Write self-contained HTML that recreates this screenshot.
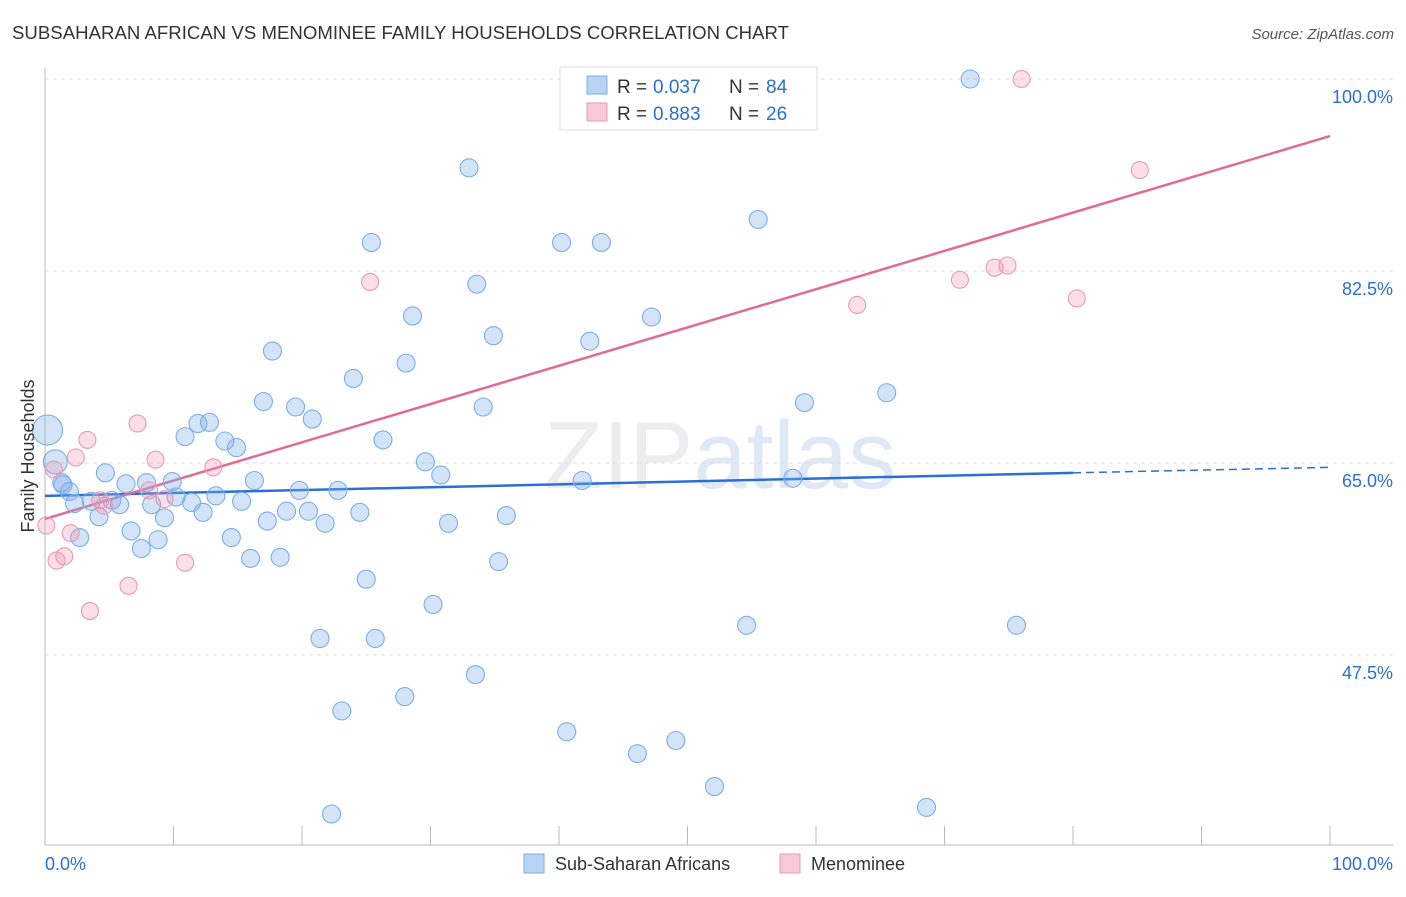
<!DOCTYPE html>
<html><head><meta charset="utf-8"><style>
body{margin:0;background:#fff;font-family:"Liberation Sans",sans-serif;}
svg text{font-family:"Liberation Sans",sans-serif;}
</style></head><body>
<svg id="chart" width="1406" height="892" xmlns="http://www.w3.org/2000/svg">
<text x="12" y="39" font-size="18.6" fill="#333" textLength="777">SUBSAHARAN AFRICAN VS MENOMINEE FAMILY HOUSEHOLDS CORRELATION CHART</text>
<text x="1394" y="39" font-size="15" fill="#555" text-anchor="end" font-style="italic">Source: ZipAtlas.com</text>
<text x="720" y="488" font-size="96" text-anchor="middle" fill="#ededf0" font-family="Liberation Serif"><tspan>ZIP</tspan><tspan font-family="Liberation Sans" fill="#dfe8f5">atlas</tspan></text>
<g id="grid"></g>
<g id="axes"></g>
<g id="lines"></g>
<g id="points"></g>
<text transform="translate(34,456) rotate(-90)" font-size="18" fill="#333" text-anchor="middle">Family Households</text>
<g>
<rect x="560" y="67" width="257" height="63" fill="#fff" stroke="#ddd"/>
<rect x="587" y="76" width="20" height="18" fill="#b8d3f3" stroke="#7aaee8"/>
<rect x="587" y="103" width="20" height="18" fill="#f8c8d8" stroke="#e89ab4"/>
<text x="617" y="93" font-size="19" fill="#333">R =</text>
<text x="653" y="93" font-size="19" fill="#2a6fd6">0.037</text>
<text x="729" y="93" font-size="19" fill="#333">N =</text>
<text x="766" y="93" font-size="19" fill="#2a6fd6">84</text>
<text x="617" y="120" font-size="19" fill="#333">R =</text>
<text x="653" y="120" font-size="19" fill="#2a6fd6">0.883</text>
<text x="729" y="120" font-size="19" fill="#333">N =</text>
<text x="766" y="120" font-size="19" fill="#2a6fd6">26</text>
</g>
<g>
<rect x="524" y="854" width="20" height="19" fill="#b8d3f3" stroke="#7aaee8"/>
<text x="555" y="870" font-size="18" fill="#333">Sub-Saharan Africans</text>
<rect x="780" y="854" width="20" height="19" fill="#f8c8d8" stroke="#e89ab4"/>
<text x="811" y="870" font-size="18" fill="#333">Menominee</text>
</g>
</svg>
<script>
const yTicks=[47.5,65.0,82.5,100.0];
const xTickLabels=["0.0%","100.0%"];
const blueX=[72.0,33.0,55.5,25.4,40.2,43.3,33.6,28.6,47.2,34.9,42.4,17.7,28.1,24.0,65.5,17.0,19.5,34.1,59.1,20.8,11.9,12.8,10.9,14.0,26.3,14.9,29.6,4.7,30.8,41.8,58.2,16.3,9.9,6.3,7.9,19.8,22.8,1.4,1.9,10.2,13.3,3.6,5.2,2.3,15.3,11.4,8.3,5.8,18.8,20.5,24.5,12.3,4.2,9.3,35.9,17.3,21.8,31.4,6.7,2.7,8.8,14.5,7.5,16.0,18.3,35.3,25.0,30.2,54.6,75.6,21.4,25.7,33.5,28.0,23.1,40.6,49.1,46.1,52.1,68.6,22.3,1.3];
const blueY=[100,91.9,87.2,85.1,85.1,85.1,81.3,78.4,78.3,76.6,76.1,75.2,74.1,72.7,71.4,70.6,70.1,70.1,70.5,69.0,68.6,68.7,67.4,67.0,67.1,66.4,65.1,64.1,63.9,63.4,63.6,63.4,63.3,63.1,63.2,62.5,62.5,63.0,62.4,61.9,62.0,61.5,61.6,61.3,61.5,61.4,61.2,61.2,60.6,60.6,60.5,60.5,60.1,60.0,60.2,59.7,59.5,59.5,58.8,58.2,58.0,58.2,57.2,56.3,56.4,56.0,54.4,52.1,50.2,50.2,49.0,49.0,45.7,43.7,42.4,40.5,39.7,38.5,35.5,33.6,33.0,63.2];
const bigX=[0.2,0.8];
const bigY=[68.0,65.1];
const pinkX=[76.0,85.2,25.3,74.9,73.9,71.2,63.2,80.3,7.2,3.3,8.6,13.1,2.4,0.7,8.1,4.6,9.3,0.1,2.0,1.5,0.9,10.9,6.5,3.5,4.3];
const pinkY=[100,91.7,81.5,83.0,82.8,81.7,79.4,80.0,68.6,67.1,65.3,64.6,65.5,64.4,62.5,61.1,61.7,59.3,58.6,56.5,56.1,55.9,53.8,51.5,61.6];
const blueTrend=[62.0,64.1,64.6];
const pinkTrend=[59.9,94.8];
const X0=45,X1=1330,YTOP=79,PPU=10.97;
const sx=v=>X0+(X1-X0)*v/100;
const sy=v=>YTOP+(100-v)*PPU;
const NS="http://www.w3.org/2000/svg";
function mk(tag,attrs,parent){const e=document.createElementNS(NS,tag);for(const k in attrs)e.setAttribute(k,attrs[k]);document.getElementById(parent).appendChild(e);return e;}
yTicks.forEach(t=>{
 const l=mk('line',{x1:45,x2:1393,y1:sy(t),y2:sy(t),stroke:'#ddd','stroke-dasharray':'4,4'},'grid');
 
 
 const tx=mk('text',{x:1393,y:sy(t)+24,'font-size':18,fill:'#2a6fd6','text-anchor':'end'},'grid');
 tx.textContent=t.toFixed(1)+'%';
 
 
});
let a=mk('line',{x1:45,x2:45,y1:68,y2:845,stroke:'#bbb'},'axes');


a=mk('line',{x1:45,x2:1393,y1:845,y2:845,stroke:'#bbb'},'axes');


for(let i=0;i<=10;i++){
 const t=mk('line',{x1:sx(i*10),x2:sx(i*10),y1:826,y2:845,stroke:'#bbb'},'axes');
 
 
}
[[0,'start',45],[1,'end',1393]].forEach(([i,anc,x])=>{
 const t=mk('text',{x:x,y:870,'font-size':18,fill:'#2a6fd6','text-anchor':anc},'axes');
 t.textContent=xTickLabels[i];
 
 
});
let ln=mk('line',{x1:sx(0),y1:sy(blueTrend[0]),x2:sx(80),y2:sy(blueTrend[1]),stroke:'#2a6fd6','stroke-width':2.5},'lines');


ln=mk('line',{x1:sx(80),y1:sy(blueTrend[1]),x2:sx(100),y2:sy(blueTrend[2]),stroke:'#2a6fd6','stroke-width':1.5,'stroke-dasharray':'8,5'},'lines');


ln=mk('line',{x1:sx(0),y1:sy(pinkTrend[0]),x2:sx(100),y2:sy(pinkTrend[1]),stroke:'#e26a96','stroke-width':2.5},'lines');


blueX.forEach((x,i)=>{
 const c=mk('circle',{cx:sx(x),cy:sy(blueY[i]),r:9,fill:'rgba(130,175,235,0.35)',stroke:'#7aaee8','stroke-width':1.1},'points');
 
 
});
bigX.forEach((x,i)=>{
 const c=mk('circle',{cx:sx(x),cy:sy(bigY[i]),r:i==0?15:12,fill:'rgba(130,175,235,0.35)',stroke:'#7aaee8','stroke-width':1.1},'points');
 
 
});
pinkX.forEach((x,i)=>{
 const c=mk('circle',{cx:sx(x),cy:sy(pinkY[i]),r:8.5,fill:'rgba(240,150,180,0.3)',stroke:'#e89ab4','stroke-width':1.1},'points');
 
 
});
</script>
</body></html>
